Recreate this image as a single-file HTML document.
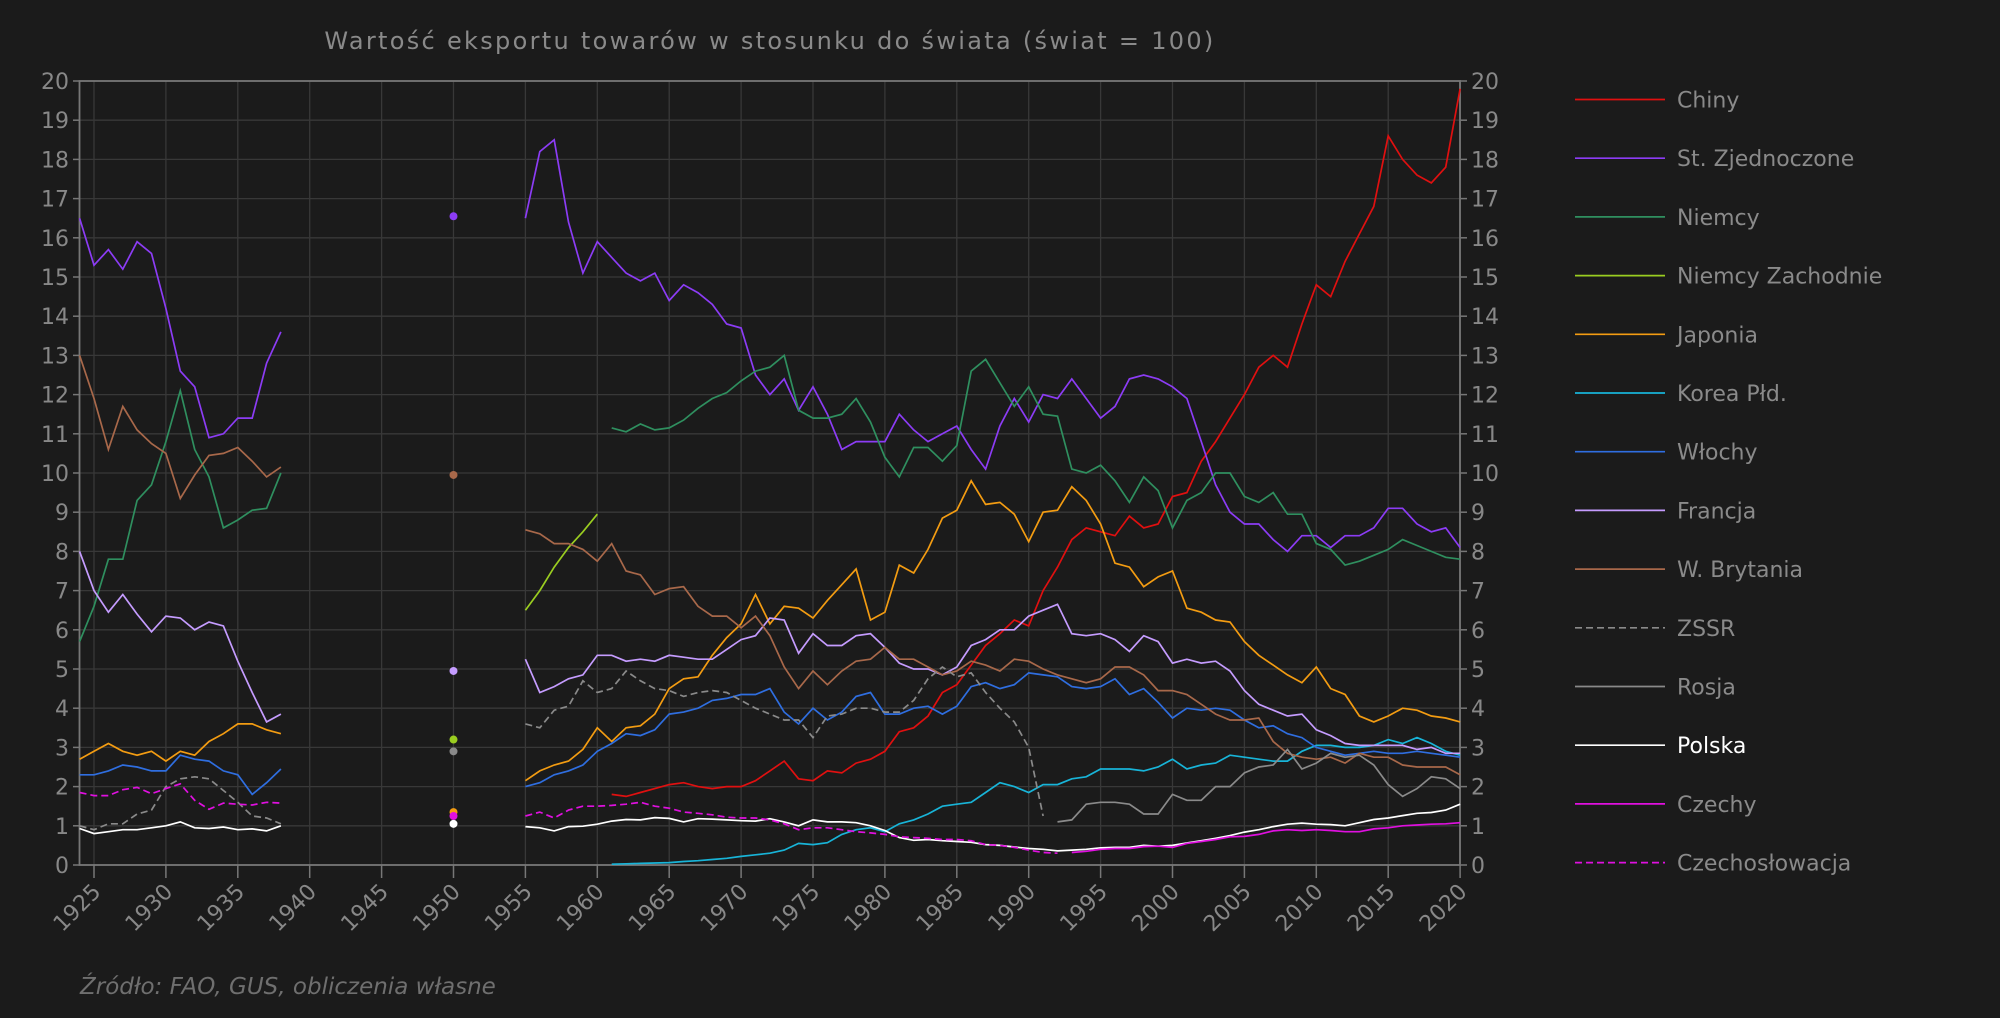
<!DOCTYPE html>
<html><head><meta charset="utf-8"><style>
html,body{margin:0;padding:0;background:#1b1b1b;}
svg{display:block;}
text{font-family:"DejaVu Sans","Liberation Sans",sans-serif;}
</style></head><body>
<svg id="s" width="2000" height="1018" xmlns="http://www.w3.org/2000/svg">
<rect width="2000" height="1018" fill="#1b1b1b"/>
<text x="770" y="49" text-anchor="middle" fill="#8a8a8a" font-size="24" letter-spacing="2.3">Wartość eksportu towarów w stosunku do świata (świat = 100)</text>
<text x="80" y="994" fill="#6f6f6f" font-size="23" font-style="italic">Źródło: FAO, GUS, obliczenia własne</text>
<g id="g"></g>
</svg>
<script>
const g=document.getElementById('g');
const X=y=>94+(y-1925)*14.38, Y=v=>865-39.2*v;
let h='';
for(let v=0;v<=20;v++){const y=Y(v);
 h+=`<line x1="79.5" x2="1460" y1="${y}" y2="${y}" stroke="#383838" stroke-width="1.3"/>`;
 h+=`<line x1="73" x2="79.5" y1="${y}" y2="${y}" stroke="#777" stroke-width="1.5"/><line x1="1460" x2="1467" y1="${y}" y2="${y}" stroke="#777" stroke-width="1.5"/>`;
 h+=`<text x="69" y="${y+8}" text-anchor="end" fill="#888" font-size="22">${v}</text><text x="1471" y="${y+8}" fill="#888" font-size="22">${v}</text>`;}
for(let yr=1925;yr<=2020;yr+=5){const x=X(yr);
 h+=`<line x1="${x}" x2="${x}" y1="81" y2="865" stroke="#383838" stroke-width="1.3"/>`;
 h+=`<line x1="${x}" x2="${x}" y1="865" y2="878" stroke="#777" stroke-width="1.5"/>`;
 h+=`<text transform="translate(${x+8},${893}) rotate(-45)" text-anchor="end" fill="#888" font-size="22">${yr}</text>`;}
h+=`<rect x="79.5" y="81" width="1380.5" height="784" fill="none" stroke="#777" stroke-width="1.8"/>`;
function S(start,arr){return arr.map((v,i)=>[start+i,v]);}
const series=[
["Chiny","#e01010",0,[S(1961,[1.8,1.75,1.85,1.95,2.05,2.1,2.0,1.95,2.0,2.0,2.15,2.4,2.65,2.2,2.15,2.4,2.35,2.6,2.7,2.9,3.4,3.5,3.8,4.4,4.6,5.1,5.6,5.9,6.25,6.1,7.0,7.6,8.3,8.6,8.5,8.4,8.9,8.6,8.7,9.4,9.5,10.3,10.8,11.4,12.0,12.7,13.0,12.7,13.8,14.8,14.5,15.4,16.1,16.8,18.6,18.0,17.6,17.4,17.8,19.8])],null],
["St. Zjednoczone","#8c3cf5",0,[S(1924,[16.5,15.3,15.7,15.2,15.9,15.6,14.2,12.6,12.2,10.9,11.0,11.4,11.4,12.8,13.6]),S(1955,[16.5,18.2,18.5,16.4,15.1,15.9,15.5,15.1,14.9,15.1,14.4,14.8,14.6,14.3,13.8,13.7,12.5,12.0,12.4,11.6,12.2,11.5,10.6,10.8,10.8,10.8,11.5,11.1,10.8,11.0,11.2,10.6,10.1,11.2,11.9,11.3,12.0,11.9,12.4,11.9,11.4,11.7,12.4,12.5,12.4,12.2,11.9,10.8,9.7,9.0,8.7,8.7,8.3,8.0,8.4,8.4,8.1,8.4,8.4,8.6,9.1,9.1,8.7,8.5,8.6,8.1])],16.55],
["Niemcy","#2f8f5f",0,[S(1924,[5.7,6.6,7.8,7.8,9.3,9.7,10.8,12.1,10.6,9.9,8.6,8.8,9.05,9.1,10.0]),S(1961,[11.15,11.05,11.25,11.1,11.15,11.35,11.65,11.9,12.05,12.35,12.6,12.7,13.0,11.6,11.4,11.4,11.5,11.9,11.3,10.4,9.9,10.65,10.65,10.3,10.7,12.6,12.9,12.3,11.7,12.2,11.5,11.45,10.1,10.0,10.2,9.8,9.25,9.9,9.55,8.6,9.3,9.5,10.0,10.0,9.4,9.25,9.5,8.95,8.95,8.2,8.05,7.65,7.75,7.9,8.05,8.3,8.15,8.0,7.85,7.8])],null],
["Niemcy Zachodnie","#9acd20",0,[S(1955,[6.5,7.0,7.6,8.1,8.5,8.95])],3.2],
["Japonia","#f39c12",0,[S(1924,[2.7,2.9,3.1,2.9,2.8,2.9,2.65,2.9,2.8,3.15,3.35,3.6,3.6,3.45,3.35]),S(1955,[2.15,2.4,2.55,2.65,2.95,3.5,3.15,3.5,3.55,3.85,4.5,4.75,4.8,5.35,5.8,6.15,6.9,6.15,6.6,6.55,6.3,6.75,7.15,7.55,6.25,6.45,7.65,7.45,8.05,8.85,9.05,9.8,9.2,9.25,8.95,8.25,9.0,9.05,9.65,9.3,8.7,7.7,7.6,7.1,7.35,7.5,6.55,6.45,6.25,6.2,5.7,5.35,5.1,4.85,4.65,5.05,4.5,4.35,3.8,3.65,3.8,4.0,3.95,3.8,3.75,3.65])],1.35],
["Korea Płd.","#18b4d8",0,[S(1961,[0.02,0.03,0.04,0.05,0.06,0.09,0.11,0.14,0.17,0.22,0.26,0.3,0.38,0.55,0.52,0.57,0.78,0.9,0.95,0.85,1.05,1.15,1.3,1.5,1.55,1.6,1.85,2.1,2.0,1.85,2.05,2.05,2.2,2.25,2.45,2.45,2.45,2.4,2.5,2.7,2.45,2.55,2.6,2.8,2.75,2.7,2.65,2.65,2.9,3.05,3.05,3.0,3.0,3.05,3.2,3.1,3.25,3.1,2.9,2.8])],null],
["Włochy","#2f6ee0",0,[S(1924,[2.3,2.3,2.4,2.55,2.5,2.4,2.4,2.8,2.7,2.65,2.4,2.3,1.8,2.1,2.45]),S(1955,[2.0,2.1,2.3,2.4,2.55,2.9,3.1,3.35,3.3,3.45,3.85,3.9,4.0,4.2,4.25,4.35,4.35,4.5,3.9,3.6,4.0,3.7,3.9,4.3,4.4,3.85,3.85,4.0,4.05,3.85,4.05,4.55,4.65,4.5,4.6,4.9,4.85,4.8,4.55,4.5,4.55,4.75,4.35,4.5,4.15,3.75,4.0,3.95,4.0,3.95,3.7,3.5,3.55,3.35,3.25,3.0,2.9,2.8,2.85,2.9,2.85,2.85,2.9,2.85,2.8,2.75])],null],
["Francja","#c59cff",0,[S(1924,[8.0,7.0,6.45,6.9,6.4,5.95,6.35,6.3,6.0,6.2,6.1,5.2,4.4,3.65,3.85]),S(1955,[5.25,4.4,4.55,4.75,4.85,5.35,5.35,5.2,5.25,5.2,5.35,5.3,5.25,5.25,5.5,5.75,5.85,6.3,6.25,5.4,5.9,5.6,5.6,5.85,5.9,5.55,5.15,5.0,5.0,4.85,5.05,5.6,5.75,6.0,6.0,6.35,6.5,6.65,5.9,5.85,5.9,5.75,5.45,5.85,5.7,5.15,5.25,5.15,5.2,4.95,4.45,4.1,3.95,3.8,3.85,3.45,3.3,3.1,3.05,3.05,3.05,3.05,2.95,3.0,2.85,2.85])],4.95],
["W. Brytania","#a8684a",0,[S(1924,[13.0,11.9,10.6,11.7,11.1,10.75,10.5,9.35,9.95,10.45,10.5,10.65,10.3,9.9,10.15]),S(1955,[8.55,8.45,8.2,8.2,8.05,7.75,8.2,7.5,7.4,6.9,7.05,7.1,6.6,6.35,6.35,6.05,6.35,5.85,5.05,4.5,4.95,4.6,4.95,5.2,5.25,5.55,5.25,5.25,5.05,4.85,4.95,5.2,5.1,4.95,5.25,5.2,5.0,4.85,4.75,4.65,4.75,5.05,5.05,4.85,4.45,4.45,4.35,4.1,3.85,3.7,3.7,3.75,3.15,2.85,2.75,2.7,2.75,2.6,2.85,2.75,2.75,2.55,2.5,2.5,2.5,2.3])],9.95],
["ZSSR","#8a8a8a",1,[S(1924,[1.0,0.9,1.05,1.05,1.3,1.4,2.0,2.2,2.25,2.2,1.9,1.6,1.25,1.2,1.05]),S(1955,[3.6,3.5,3.95,4.05,4.7,4.4,4.5,4.95,4.7,4.5,4.45,4.3,4.4,4.45,4.4,4.2,4.0,3.85,3.7,3.7,3.25,3.8,3.85,4.0,4.0,3.9,3.9,4.2,4.75,5.05,4.8,4.9,4.4,4.0,3.65,3.0,1.25])],2.9],
["Rosja","#8a8a8a",0,[S(1992,[1.1,1.15,1.55,1.6,1.6,1.55,1.3,1.3,1.8,1.65,1.65,2.0,2.0,2.35,2.5,2.55,2.95,2.45,2.6,2.85,2.75,2.8,2.55,2.05,1.75,1.95,2.25,2.2,1.95])],null],
["Polska","#ffffff",0,[S(1924,[0.93,0.8,0.85,0.9,0.9,0.95,1.0,1.1,0.95,0.93,0.97,0.9,0.92,0.87,1.0]),S(1955,[0.98,0.95,0.87,0.98,0.99,1.04,1.12,1.16,1.15,1.21,1.19,1.1,1.18,1.17,1.15,1.13,1.12,1.18,1.1,1.0,1.15,1.1,1.1,1.08,1.0,0.88,0.7,0.63,0.65,0.62,0.6,0.58,0.52,0.5,0.46,0.42,0.4,0.36,0.38,0.4,0.44,0.45,0.45,0.5,0.48,0.5,0.56,0.62,0.68,0.75,0.84,0.9,0.98,1.04,1.07,1.04,1.03,1.0,1.08,1.16,1.2,1.26,1.32,1.34,1.4,1.55])],1.05],
["Czechy","#e010e0",0,[S(1993,[0.32,0.35,0.4,0.42,0.42,0.47,0.48,0.45,0.55,0.6,0.65,0.72,0.73,0.78,0.87,0.9,0.88,0.9,0.88,0.85,0.85,0.92,0.95,1.0,1.02,1.04,1.05,1.08])],null],
["Czechosłowacja","#e010e0",1,[S(1924,[1.85,1.77,1.77,1.92,1.98,1.82,1.95,2.07,1.65,1.42,1.58,1.55,1.53,1.6,1.58]),S(1955,[1.25,1.35,1.2,1.4,1.5,1.5,1.52,1.55,1.6,1.5,1.45,1.35,1.32,1.28,1.22,1.2,1.2,1.15,1.05,0.9,0.95,0.95,0.9,0.85,0.82,0.78,0.72,0.7,0.68,0.65,0.65,0.62,0.52,0.5,0.45,0.38,0.32,0.3])],1.25]
];
series.forEach((s,i)=>{const [name,c,dash,segs,dot]=s;
 const da=dash?' stroke-dasharray="7,4"':'';
 segs.forEach(seg=>{h+=`<polyline fill="none" stroke="${c}" stroke-width="1.7"${da} points="${seg.map(p=>X(p[0]).toFixed(1)+','+Y(p[1]).toFixed(1)).join(' ')}"/>`;});
 if(dot!=null)h+=`<circle cx="${X(1950)}" cy="${Y(dot)}" r="4" fill="${c}"/>`;
 const ly=99.5+58.7*i;
 h+=`<line x1="1575" x2="1665" y1="${ly}" y2="${ly}" stroke="${c}" stroke-width="1.7"${da}/>`;
 h+=`<text x="1677" y="${ly+8}" fill="${name=='Polska'?'#fff':'#8a8a8a'}" font-size="22">${name}</text>`;});
g.innerHTML=h;
</script>
</body></html>
